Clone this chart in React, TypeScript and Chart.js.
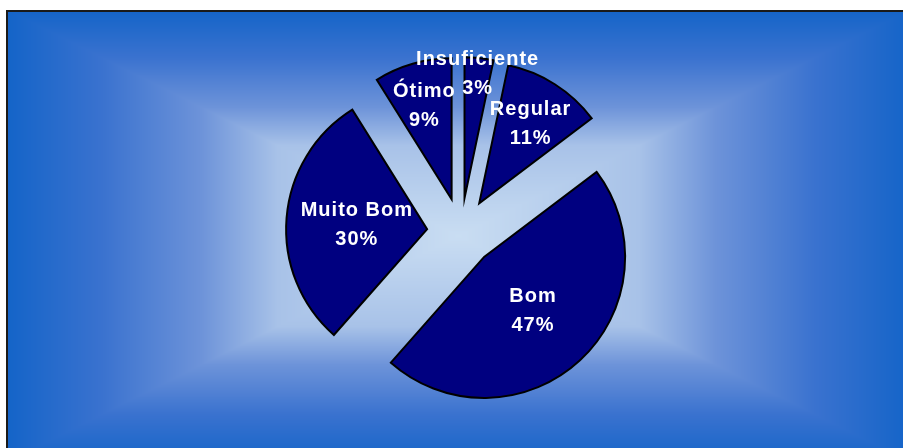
import { useEffect, useRef } from "react";
import { Chart, registerables } from "chart.js";

Chart.register(...registerables);

// ---- data (percent shares) ----
const categories = ["Insuficiente", "Regular", "Bom", "Muito Bom", "Ótimo"];
const values = [3.3, 11.4, 46.8, 29.6, 8.9];

// ---- styles ----
const labelRadialFactor = [0.9, 0.68, 0.51, 0.5, 0.7];
const EXPLODE = 34;
const SLICE_COLOR = "#000080";
const FRAME = { x0: 7, y0: 10, x1: 910, y1: 462 };
const GRAD_STOPS: [number, [number, number, number]][] = [
  [0, [201, 221, 242]],
  [0.4, [168, 194, 232]],
  [0.57, [109, 147, 217]],
  [0.79, [58, 114, 207]],
  [1, [20, 100, 200]],
];

function gradColor(t: number): [number, number, number] {
  for (let i = 1; i < GRAD_STOPS.length; i++) {
    const [t1, c1] = GRAD_STOPS[i];
    const [t0, c0] = GRAD_STOPS[i - 1];
    if (t <= t1) {
      const f = (t - t0) / (t1 - t0);
      return [
        c0[0] + (c1[0] - c0[0]) * f,
        c0[1] + (c1[1] - c0[1]) * f,
        c0[2] + (c1[2] - c0[2]) * f,
      ];
    }
  }
  return GRAD_STOPS[GRAD_STOPS.length - 1][1];
}

const bgPlugin = {
  id: "rectGradientBg",
  beforeDraw(chart: any) {
    const ctx: CanvasRenderingContext2D = chart.ctx;
    const W = chart.canvas.width;
    const H = chart.canvas.height;
    const img = ctx.createImageData(W, H);
    const { x0, y0, x1, y1 } = FRAME;
    const cx = (x0 + x1) / 2;
    const cy = (y0 + y1) / 2;
    const hw = (x1 - x0) / 2;
    const hh = (y1 - y0) / 2;
    for (let y = 0; y < H; y++) {
      for (let x = 0; x < W; x++) {
        const k = (y * W + x) * 4;
        let r = 255, g = 255, b = 255;
        if (x >= x0 && y >= y0 && x <= x1 && y <= y1) {
          const t = Math.min(1, Math.max(Math.abs(x + 0.5 - cx) / hw, Math.abs(y + 0.5 - cy) / hh));
          [r, g, b] = gradColor(t);
        }
        img.data[k] = r;
        img.data[k + 1] = g;
        img.data[k + 2] = b;
        img.data[k + 3] = 255;
      }
    }
    ctx.putImageData(img, 0, 0);
    ctx.save();
    ctx.strokeStyle = "#1a1a1a";
    ctx.lineWidth = 2;
    ctx.strokeRect(x0, y0 + 1, x1 - x0, y1 - y0);
    ctx.restore();
  },
};

const explodePlugin = {
  id: "explodeSlices",
  afterDatasetsUpdate(chart: any) {
    const meta = chart.getDatasetMeta(0);
    meta.data.forEach((arc: any) => {
      const mid = (arc.startAngle + arc.endAngle) / 2;
      arc.x += EXPLODE * Math.cos(mid);
      arc.y += EXPLODE * Math.sin(mid);
    });
  },
};

const labelPlugin = {
  id: "sliceLabels",
  afterDatasetsDraw(chart: any) {
    const ctx: CanvasRenderingContext2D = chart.ctx;
    const meta = chart.getDatasetMeta(0);
    const total = values.reduce((a, b) => a + b, 0);
    ctx.save();
    ctx.fillStyle = "#ffffff";
    ctx.font = "bold 20px 'Liberation Sans', Arial, sans-serif";
    ctx.textAlign = "center";
    ctx.textBaseline = "alphabetic";
    (ctx as any).letterSpacing = "1px";
    meta.data.forEach((arc: any, i: number) => {
      const mid = (arc.startAngle + arc.endAngle) / 2;
      const d = labelRadialFactor[i] * arc.outerRadius;
      const x = arc.x + d * Math.cos(mid);
      const y = arc.y + d * Math.sin(mid);
      const pct = Math.round((values[i] / total) * 100) + "%";
      ctx.fillText(categories[i], x, y - 14.5 + 7.2);
      ctx.fillText(pct, x, y + 14.5 + 7.2);
    });
    ctx.restore();
  },
};

export default function App() {
  const ref = useRef<HTMLCanvasElement | null>(null);
  useEffect(() => {
    if (!ref.current) return;
    const chart = new Chart(ref.current, {
      type: "pie",
      data: {
        labels: categories,
        datasets: [
          {
            data: values,
            backgroundColor: SLICE_COLOR,
            borderColor: "#000000",
            borderWidth: 2,
            borderJoinStyle: "miter",
            radius: 141,
          } as any,
        ],
      },
      options: {
        responsive: false,
        animation: false,
        events: [],
        layout: { padding: { left: 19, right: 0, top: 16, bottom: 0 } },
        plugins: {
          legend: { display: false },
          tooltip: { enabled: false },
          title: { display: false },
        },
      } as any,
      plugins: [bgPlugin, explodePlugin, labelPlugin],
    });
    return () => chart.destroy();
  }, []);
  return (
    <div style={{ position: "fixed", left: 0, top: 0, width: 903, height: 448 }}>
      <canvas ref={ref} width={903} height={448} style={{ display: "block", width: 903, height: 448 }} />
    </div>
  );
}
